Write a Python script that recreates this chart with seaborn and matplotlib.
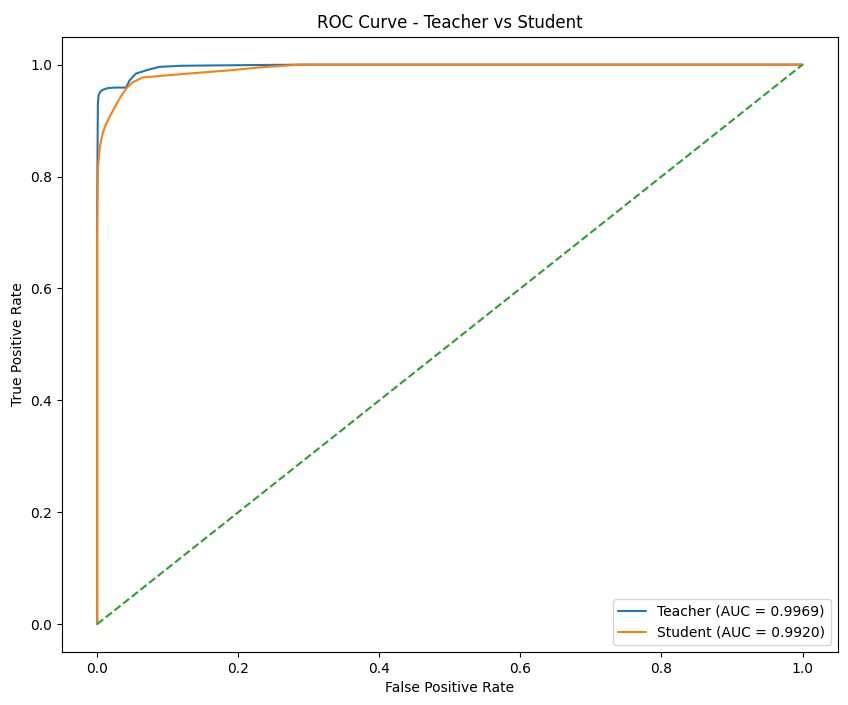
import matplotlib
matplotlib.use("Agg")
import matplotlib.pyplot as plt
import seaborn as sns

# ROC points
teacher_fpr = [0.0, 0.0, 0.001, 0.002, 0.004, 0.008, 0.015, 0.025, 0.041, 0.046, 0.055, 0.07, 0.088, 0.12, 0.2, 0.29, 1.0]
teacher_tpr = [0.0, 0.75, 0.93, 0.945, 0.951, 0.955, 0.958, 0.959, 0.959, 0.972, 0.984, 0.99, 0.996, 0.998, 0.999, 1.0, 1.0]
student_fpr = [0.0, 0.0, 0.001, 0.004, 0.008, 0.012, 0.017, 0.025, 0.033, 0.041, 0.05, 0.064, 0.1, 0.149, 0.19, 0.23, 0.287, 1.0]
student_tpr = [0.0, 0.7, 0.816, 0.855, 0.878, 0.892, 0.905, 0.924, 0.942, 0.957, 0.968, 0.977, 0.981, 0.986, 0.99, 0.995, 1.0, 1.0]
teacher_auc = 0.9969
student_auc = 0.9920

sns.set_style("ticks", {"text.color": "black", "axes.labelcolor": "black",
                        "xtick.color": "black", "ytick.color": "black",
                        "axes.edgecolor": "black"})
plt.rcParams['font.family'] = ['DejaVu Sans']
fig, ax = plt.subplots(figsize=(8.48, 7.05), dpi=100)
fig.subplots_adjust(left=0.073, right=0.988, top=0.948, bottom=0.075)

pal = sns.color_palette("tab10")
sns.lineplot(x=teacher_fpr, y=teacher_tpr, ax=ax, color=pal[0], estimator=None, sort=False,
             label=f"Teacher (AUC = {teacher_auc:.4f})")
sns.lineplot(x=student_fpr, y=student_tpr, ax=ax, color=pal[1], estimator=None, sort=False,
             label=f"Student (AUC = {student_auc:.4f})")
ax.plot([0, 1], [0, 1], linestyle="--", color=pal[2])

ax.set_xlabel("False Positive Rate")
ax.set_ylabel("True Positive Rate")
ax.set_title("ROC Curve - Teacher vs Student")
ax.legend(loc="lower right")
fig.savefig("out.png")
